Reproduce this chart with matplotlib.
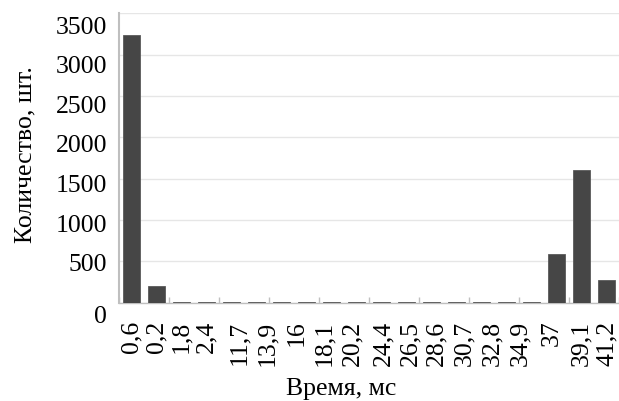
import numpy as np
import matplotlib
matplotlib.use("Agg")
import matplotlib.pyplot as plt
import matplotlib.transforms as mtransforms

plt.rcParams['font.family'] = ['Liberation Serif', 'DejaVu Serif']

# ====================== DATA ======================
# 20 bars are drawn, but the source only labels 18 of them
counts = [3240, 200, 8, 8, 8, 8, 8, 8, 8, 8,
          8, 8, 8, 8, 8, 8, 8, 590, 1600, 275]
time_labels = ['0,6', '0,2', '1,8', '2,4', '11,7', '13,9', '16', '18,1', '20,2',
               '24,4', '26,5', '28,6', '30,7', '32,8', '34,9', '37', '39,1', '41,2']
# where the labels sit along the bar axis
label_pos = [0, 1, 2, 3, 4.3, 5.42, 6.62, 7.7, 8.82, 10.06, 11.14, 12.18,
             13.3, 14.42, 15.54, 16.82, 18, 19]
y_grid = [0, 500, 1000, 1500, 2000, 2500, 3000, 3500]
y_labels = ['0', '500', '1000', '1500', '2000', '2500', '3000', '3500']
# the value labels are slightly off the gridlines in the source
y_label_pos = [-180, 456, 929, 1413, 1897, 2370, 2854, 3326]

# ====================== PLOT ======================
fig = plt.figure(figsize=(6.19, 4.01), dpi=100)
ax = fig.add_axes([0.1922, 0.2456, 0.8078, 0.7212])

x = np.arange(len(counts))
ax.bar(x, counts, width=0.66, color='#464646', edgecolor='#5a5a5a', linewidth=0.6, zorder=3)

ax.set_xlim(-0.5, len(counts) - 0.5)
ax.set_ylim(0, 3500)

ax.set_yticks(y_grid)
ax.set_yticklabels([])
ax.tick_params(axis='y', length=0)
ax.grid(axis='y', color='#e6e6e6', linewidth=1.0, zorder=0)

trans = mtransforms.blended_transform_factory(ax.transAxes, ax.transData)
for yp, lab in zip(y_label_pos, y_labels):
    ax.text(-0.024, yp, lab, transform=trans, ha='right', va='center',
            fontsize=18.5, clip_on=False)

ax.set_xticks(label_pos)
ax.set_xticklabels(time_labels, rotation=90, fontsize=18.5)
ax.tick_params(axis='x', which='major', length=0, pad=13)
ax.set_xticks(np.arange(-0.5, len(counts), 2), minor=True)
ax.tick_params(axis='x', which='minor', direction='in', length=4, width=1, color='#bfbfbf')

for s in ['top', 'right']:
    ax.spines[s].set_visible(False)
ax.spines['left'].set_color('#bfbfbf')
ax.spines['left'].set_linewidth(1.5)
ax.spines['bottom'].set_color('#bfbfbf')
ax.spines['bottom'].set_linewidth(1.0)

ax.set_xlabel('Время, мс', fontsize=18.5)
ax.xaxis.set_label_coords(0.444, -0.262)
ax.set_ylabel('Количество, шт.', fontsize=18.5)
ax.yaxis.set_label_coords(-0.166, 0.513)

plt.savefig('out.png', dpi=100)
